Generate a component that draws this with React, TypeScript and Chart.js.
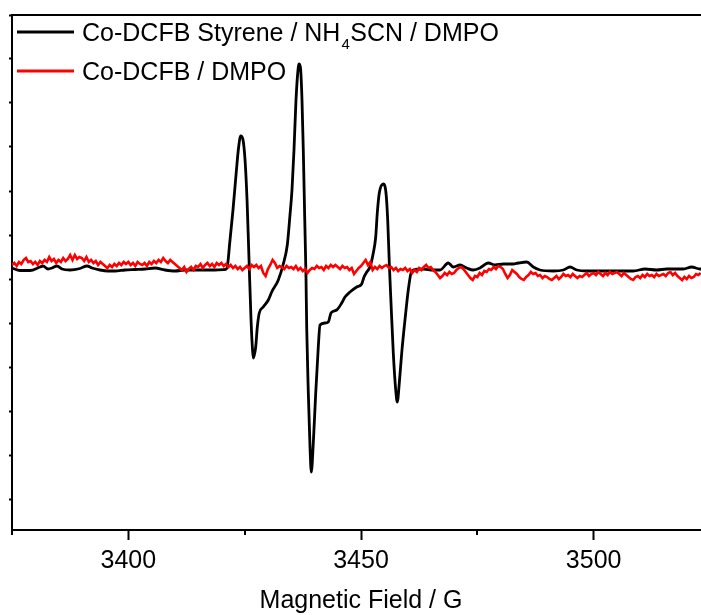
import React, { useEffect, useRef } from "react";
import { Chart, registerables } from "chart.js";

Chart.register(...registerables);

// ---- axis ranges ----
const fieldMin = 3375;
const fieldMax = 3525;
const xTickStep = 25;
const xLabelStep = 50;
const signalMin = -251;
const signalMax = 264;
const signalTickStep = 44;

const axisTitle = "Magnetic Field / G";

// legend labels (second part of first label is a subscript)
const labelSample = ["Co-DCFB Styrene / NH", "4", "SCN / DMPO"];
const labelBlank = ["Co-DCFB / DMPO"];

// ---- Co-DCFB Styrene / NH4SCN / DMPO (black) ----
const blackField = [
  3375.0, 3376.72, 3378.87, 3381.02, 3381.66, 3382.74, 3383.6, 3384.67, 3385.75, 3387.46,
  3389.61, 3391.12, 3392.19, 3393.91, 3395.63, 3397.13, 3399.28, 3401.43, 3403.58, 3405.73,
  3407.88, 3410.03, 3412.18, 3415.4, 3418.62, 3420.77, 3421.2, 3421.85, 3422.49, 3423.14, 3423.68,
  3424.15, 3424.65, 3425.08, 3425.51, 3425.94, 3426.37, 3426.69, 3426.86, 3427.12, 3427.37,
  3427.72, 3428.14, 3429.0, 3430.08, 3430.81, 3432.23, 3433.3, 3434.16, 3434.74, 3435.17,
  3435.6, 3436.03, 3436.53, 3436.74, 3437.04, 3437.32, 3437.6, 3437.9, 3438.18, 3438.33,
  3438.68, 3439.04, 3439.32, 3439.75, 3440.27, 3440.82, 3441.19, 3442.26, 3442.97, 3443.55,
  3444.78, 3445.85, 3446.56, 3447.64, 3449.08, 3450.15, 3450.65, 3451.23, 3451.93, 3452.64,
  3453.16, 3453.5, 3453.93, 3454.79, 3455.37, 3455.74, 3456.08, 3456.45, 3456.94, 3457.46,
  3457.8, 3458.23, 3458.75, 3459.45, 3460.16, 3460.74, 3461.24, 3463.39, 3465.47, 3466.98,
  3468.76, 3469.84, 3471.28, 3472.71, 3474.13, 3475.57, 3477.36, 3478.8, 3480.58, 3482.73,
  3483.81, 3485.61, 3487.03, 3488.47, 3491.33, 3493.48, 3494.92, 3496.36, 3498.51, 3501.36,
  3504.95, 3508.52, 3511.03, 3513.54, 3515.69, 3519.26, 3521.07, 3522.85, 3525.0,
];
const blackSignal = [
  11, 8.5, 8.5, 12, 13, 10, 11, 13, 10, 9,
  10.5, 13, 11, 9, 8, 8, 9, 9.5, 10, 11,
  9, 8, 9, 9, 9, 9.5, 11, 39, 69, 104, 131,
  143, 139, 119, 79, 19, -41, -71, -79, -75, -68,
  -48, -34, -28, -21, -13, -1, 15, 34, 64, 89,
  129, 179, 212, 215, 209, 179, 129, 62, 2, -48,
  -114, -168, -193, -164, -114, -68, -46, -44, -43, -34,
  -31, -24, -18, -13, -8, -5, 2, 7, 12, 26,
  42, 66, 86, 95, 86, 59, 16, -24, -74, -111,
  -123, -104, -74, -41, -11, 6, 9, 10, 9, 9,
  16, 12, 14, 11, 9, 11, 16, 14, 15, 15,
  16, 17, 12, 9, 8, 9, 12, 9, 8, 8,
  8, 8, 10, 9, 10, 10, 12, 10, 10,
];

// ---- Co-DCFB / DMPO (red), sampled every 0.5 G from 3375 G ----
const redStart = 3375;
const redStep = 0.5;
const redSignal = [
  14, 16, 13, 17, 15, 19, 21, 17, 18, 15,
  17, 14, 18, 16, 19, 17, 22, 18, 20, 16,
  19, 17, 21, 18, 20, 24, 19, 24, 20, 22,
  21, 18, 22, 17, 19, 16, 18, 14, 17, 15,
  13, 11, 14, 12, 15, 13, 16, 14, 17, 15,
  17, 14, 16, 13, 17, 15, 14, 16, 13, 17,
  15, 18, 16, 19, 17, 21, 18, 16, 19, 17,
  15, 13, 11, 9, 12, 7, 10, 12, 9, 13,
  12, 15, 11, 14, 16, 13, 15, 12, 16, 14,
  16, 13, 15, 12, 14, 11, 13, 10, 12, 9,
  11, 13, 10, 14, 12, 14, 11, 13, 6, 3,
  10, 14, 19, 16, 11, 13, 12, 10, 13, 11,
  12, 10, 13, 9, 11, 8, 10, 6, 9, 11,
  10, 13, 11, 12, 9, 13, 11, 14, 12, 14,
  12, 10, 13, 11, 12, 9, 11, 5, 8, 11,
  13, 16, 19, 14, 17, 9, 12, 10, 13, 11,
  13, 14, 11, 12, 9, 11, 8, 10, 9, 11,
  8, 10, 6, 9, 7, 11, 9, 12, 14, 11,
  12, 9, 7, 4, 1, 3, 6, 4, 7, 5,
  6, 9, 11, 12, 10, 7, 4, 1, -1, 3,
  2, 6, 4, 8, 7, 10, 9, 12, 10, 13,
  12, 10, 5, 1, 4, 9, 7, 5, 2, 0,
  -1, 2, 4, 7, 5, 6, 3, 4, 1, 3,
  2, 0, -1, 1, 3, 0, 2, 5, 3, 4,
  2, 5, 3, 1, 3, 2, 4, 6, 3, 5,
  6, 4, 7, 5, 3, 6, 4, 7, 5, 6,
  7, 5, 3, 6, 4, 2, 0, -1, 2, 3,
  1, 4, 2, 5, 3, 4, 2, 5, 3, 4,
  5, 3, 6, 7, 4, 6, 3, 1, -1, 2,
  0, 3, 1, 2, 5, 4, 6,
];

const FONT_FAMILY = '"Liberation Sans", Arial, Helvetica, sans-serif';

const framePlugin = {
  id: "framePlugin",
  afterDraw(chart: any) {
    const ctx = chart.ctx;
    const { left, right, top, bottom } = chart.chartArea;
    const xs = chart.scales.x;
    ctx.save();
    ctx.strokeStyle = "#000";
    ctx.lineWidth = 2;
    // top frame line
    ctx.beginPath();
    ctx.moveTo(left - 1, top);
    ctx.lineTo(right, top);
    ctx.stroke();
    // minor x ticks
    for (const t of xs.ticks) {
      const v = Math.round(t.value);
      if (v % xLabelStep !== 0) {
        const px = Math.round(xs.getPixelForValue(v));
        ctx.beginPath();
        ctx.moveTo(px, bottom);
        ctx.lineTo(px, bottom + 5);
        ctx.stroke();
      }
    }
    // legend
    const items = [
      { color: "#000000", parts: labelSample, y: 32, base: 40.5 },
      { color: "#ff0000", parts: labelBlank, y: 71, base: 79.5 },
    ];
    for (const it of items) {
      ctx.strokeStyle = it.color;
      ctx.lineWidth = 3;
      ctx.beginPath();
      ctx.moveTo(17, it.y);
      ctx.lineTo(74, it.y);
      ctx.stroke();
      ctx.fillStyle = "#000";
      ctx.textBaseline = "alphabetic";
      ctx.textAlign = "left";
      let x = 82;
      it.parts.forEach((p: string, i: number) => {
        if (i === 1) {
          ctx.font = `15px ${FONT_FAMILY}`;
          ctx.fillText(p, x + 1, it.base + 8);
          x += ctx.measureText(p).width + 1.5;
        } else {
          ctx.font = `25px ${FONT_FAMILY}`;
          ctx.fillText(p, x, it.base);
          x += ctx.measureText(p).width;
        }
      });
    }
    ctx.restore();
  },
};

export default function App() {
  const ref = useRef<HTMLCanvasElement | null>(null);

  useEffect(() => {
    if (!ref.current) return;
    const blackData = blackField.map((f, i) => ({ x: f, y: blackSignal[i] }));
    const redData = redSignal.map((v, i) => ({ x: redStart + i * redStep, y: v }));
    const chart = new Chart(ref.current, {
      type: "line",
      data: {
        datasets: [
          {
            label: "Co-DCFB Styrene / NH4SCN / DMPO",
            data: blackData,
            borderColor: "#000000",
            borderWidth: 2.8,
            pointRadius: 0,
            cubicInterpolationMode: "monotone",
            fill: false,
            order: 1,
          },
          {
            label: "Co-DCFB / DMPO",
            data: redData,
            borderColor: "#ff0000",
            borderWidth: 2.6,
            pointRadius: 0,
            tension: 0,
            fill: false,
            order: 0,
          },
        ],
      },
      options: {
        responsive: false,
        animation: false,
        devicePixelRatio: 1,
        events: [],
        layout: { padding: { left: 0, right: 0, top: 15, bottom: 0 } },
        plugins: { legend: { display: false }, tooltip: { enabled: false } },
        scales: {
          x: {
            type: "linear",
            position: "bottom",
            min: fieldMin,
            max: fieldMax,
            ticks: {
              stepSize: xTickStep,
              includeBounds: false,
              autoSkip: false,
              maxRotation: 0,
              padding: 6,
              color: "#000",
              font: { family: FONT_FAMILY, size: 25 },
              callback: (v: any) => (Math.round(v) % xLabelStep === 0 ? String(Math.round(v)) : ""),
            },
            grid: {
              drawOnChartArea: false,
              drawTicks: true,
              tickLength: 10,
              tickWidth: 2,
              tickColor: (c: any) =>
                c.tick && Math.round(c.tick.value) % xLabelStep === 0 ? "#000" : "rgba(0,0,0,0)",
            },
            border: { display: true, color: "#000", width: 2 },
            title: {
              display: true,
              text: axisTitle,
              color: "#000",
              font: { family: FONT_FAMILY, size: 25, lineHeight: 1.1 },
              padding: { top: 0, bottom: 0 },
            },
            afterFit: (s: any) => {
              s.height = 85;
            },
          } as any,
          y: {
            type: "linear",
            position: "left",
            min: signalMin,
            max: signalMax,
            ticks: { display: false, stepSize: signalTickStep, includeBounds: false },
            grid: {
              drawOnChartArea: false,
              drawTicks: true,
              tickLength: 3,
              tickWidth: 2,
              tickColor: "#000",
            },
            border: { display: true, color: "#000", width: 2 },
            afterFit: (s: any) => {
              s.width = 12;
            },
          } as any,
        },
      },
      plugins: [framePlugin],
    });
    return () => chart.destroy();
  }, []);

  return (
    <div
      style={{
        position: "fixed",
        left: 0,
        top: 0,
        width: 701,
        height: 615,
        overflow: "hidden",
        background: "#fff",
      }}
    >
      <canvas
        ref={ref}
        width={716}
        height={615}
        style={{ display: "block", width: 716, height: 615 }}
      />
    </div>
  );
}
